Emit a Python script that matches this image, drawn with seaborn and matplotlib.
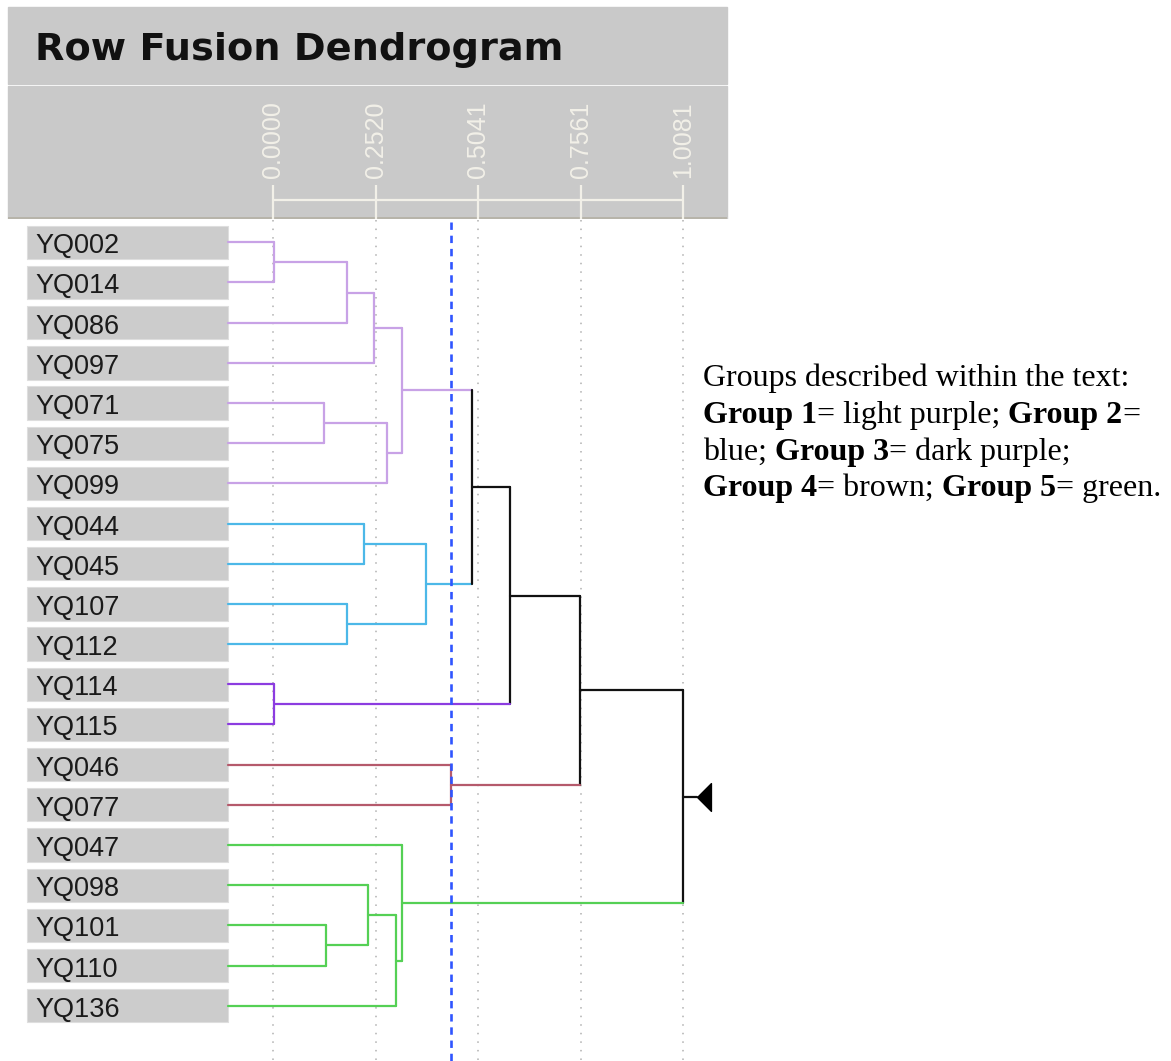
import matplotlib
matplotlib.use('Agg')
import matplotlib.pyplot as plt
import pandas as pd
import seaborn as sns
from matplotlib.patches import Rectangle

# leaves, top to bottom, and their group (1..5)
leaves = ['YQ002', 'YQ014', 'YQ086', 'YQ097', 'YQ071', 'YQ075', 'YQ099',
          'YQ044', 'YQ045', 'YQ107', 'YQ112', 'YQ114', 'YQ115', 'YQ046',
          'YQ077', 'YQ047', 'YQ098', 'YQ101', 'YQ110', 'YQ136']
leaf_group = [1, 1, 1, 1, 1, 1, 1, 2, 2, 2, 2, 3, 3, 4, 4, 5, 5, 5, 5, 5]

# linkage: merge k joins nodes link_a[k] and link_b[k] -> node 20+k
link_a = [0, 20, 21, 4, 23, 22, 7, 9, 26, 25, 11, 29, 13, 31, 17, 16, 35, 15, 33]
link_b = [1, 2, 3, 5, 6, 24, 8, 10, 27, 28, 12, 30, 14, 32, 18, 34, 19, 36, 37]
link_h = [0.001, 0.182, 0.248, 0.125, 0.280, 0.317, 0.223, 0.182, 0.375, 0.488,
          0.001, 0.582, 0.436, 0.754, 0.130, 0.234, 0.302, 0.317, 1.008]

tick_vals = [0.0, 0.2520, 0.5041, 0.7561, 1.0081]
tick_labels = ['0.0000', '0.2520', '0.5041', '0.7561', '1.0081']
cut_h = 0.437

group_colors = {0: '#111111', 1: '#c8a2e6', 2: '#4cb8e8', 3: '#8c3ce0',
                4: '#b55a6c', 5: '#55d055'}

note_lines = [
    [('Groups described within the text:', False)],
    [('Group 1', True), ('= light purple;', False), ('Group 2', True), ('=', False)],
    [('blue;', False), ('Group 3', True), ('= dark purple;', False)],
    [('Group 4', True), ('= brown;', False), ('Group 5', True), ('= green.', False)],
]

sns.set_style('white')
plt.rcParams['font.family'] = ['Liberation Sans', 'DejaVu Sans']

W, H = 1171, 1061
X0, PX = 273.3, 406.7      # pixel of distance 0, pixels per unit
Y0, ROW = 242.3, 40.18     # pixel of first leaf, pixels per row

def px2x(p):
    return (p - X0) / PX

def py2y(p):
    return (p - Y0) / ROW

fig = plt.figure(figsize=(W / 100, H / 100), dpi=100)
ax = fig.add_axes([0, 0, 1, 1])

# build the dendrogram segments
n = len(leaves)
box_left, box_right = px2x(27), px2x(228)
xpos = [box_right] * n
ypos = list(range(n))
grp = list(leaf_group)
segs = []
for k, (a, b, h) in enumerate(zip(link_a, link_b, link_h)):
    ya, yb = ypos[a], ypos[b]
    g = grp[a] if grp[a] == grp[b] else 0
    xpos.append(h)
    ypos.append((ya + yb) / 2)
    grp.append(g)
    segs.append((xpos[a], ya, h, ya, grp[a]))
    segs.append((xpos[b], yb, h, yb, grp[b]))
    segs.append((h, ya, h, yb, g))

rows = []
for i, (x1, y1, x2, y2, g) in enumerate(segs):
    rows.append({'seg': i, 'x': x1, 'y': y1, 'col': group_colors[g]})
    rows.append({'seg': i, 'x': x2, 'y': y2, 'col': group_colors[g]})
df = pd.DataFrame(rows)

# dotted grid
ax.vlines(tick_vals, py2y(220), py2y(H), colors='#b0b0b0', lw=1.1,
          linestyles=[(0, (1, 4.6))])

# leaf label boxes
ax.barh(range(n), box_right - box_left, left=box_left, height=0.83,
        color='#cccccc', edgecolor='#dedede', lw=0.8)
for i, name in enumerate(leaves):
    ax.text(px2x(35), i + 11 / ROW, name, fontsize=19.5, color='#1a1a1a',
            va='baseline', ha='left')

sns.lineplot(data=df, x='x', y='y', units='seg', estimator=None, sort=False,
             hue='col', palette={c: c for c in df['col'].unique()},
             legend=False, lw=1.6, ax=ax)

# root stub and marker
root_x, root_y = xpos[-1], ypos[-1]
ax.plot([root_x, root_x + 14 / PX], [root_y, root_y], color='#111111', lw=1.6)
tri = [(-0.5, 0), (0.5, 1), (0.5, -1), (-0.5, 0)]
ax.plot([root_x + 20.4 / PX], [root_y], marker=tri, ms=20, color='#000000', lw=0)

# cut line
ax.vlines(cut_h, py2y(222), py2y(H), colors='#2f55ff', lw=1.9,
          linestyles=[(0, (2.8, 2.2))])

ax.set_xlim(px2x(0), px2x(W))
ax.set_ylim(py2y(H), py2y(0))
ax.axis('off')

# header: title panel
fig.patches.append(Rectangle((8 / W, 1 - 83.5 / H), 719 / W, 76 / H,
                             transform=fig.transFigure, color='#c9c9c9', zorder=0))
fig.text(35 / W, 1 - 60 / H, 'Row Fusion Dendrogram', fontsize=27.5,
         fontweight='bold', family='DejaVu Sans', color='#111111', va='baseline')

# header: distance axis panel
ax_h = fig.add_axes([0, 1 - 219 / H, 1, 133 / H])
ax_h.set_xlim(ax.get_xlim())
ax_h.set_ylim(0, 1)
ax_h.axis('off')
ax_h.add_patch(Rectangle((px2x(8), 0), px2x(727) - px2x(8), 1, color='#c9c9c9'))
ax_h.hlines(0.005, px2x(8), px2x(727), colors='#b4b0a4', lw=1.2)
ax_h.vlines(tick_vals, 0, 34 / 133, colors='#f2f0e8', lw=1.6)
ax_h.hlines(19 / 133, tick_vals[0], tick_vals[-1], colors='#f2f0e8', lw=1.6)
for v, lab in zip(tick_vals, tick_labels):
    ax_h.text(v, 41 / 133, lab, rotation=90, ha='center', va='bottom',
              fontsize=18, color='#f2f0e8')

# note text on the right, mixed bold / regular
fig.canvas.draw()
rend = fig.canvas.get_renderer()
note_font = 'Liberation Serif'
fs = 23

def text_w(s, bold):
    t = fig.text(0, 0, s, fontsize=fs, family=note_font,
                 fontweight='bold' if bold else 'normal')
    w = t.get_window_extent(rend).width
    t.remove()
    return w

space_w = text_w('x x', False) - text_w('xx', False)
baselines = [386, 423, 460, 496]
for line, base in zip(note_lines, baselines):
    x = 703
    for j, (s, bold) in enumerate(line):
        if j > 0 and not s.startswith('='):
            x += space_w
        fig.text(x / W, 1 - base / H, s, fontsize=fs, family=note_font,
                 fontweight='bold' if bold else 'normal', color='#000000',
                 va='baseline', ha='left')
        x += text_w(s, bold)

fig.savefig('out.png', dpi=100)
